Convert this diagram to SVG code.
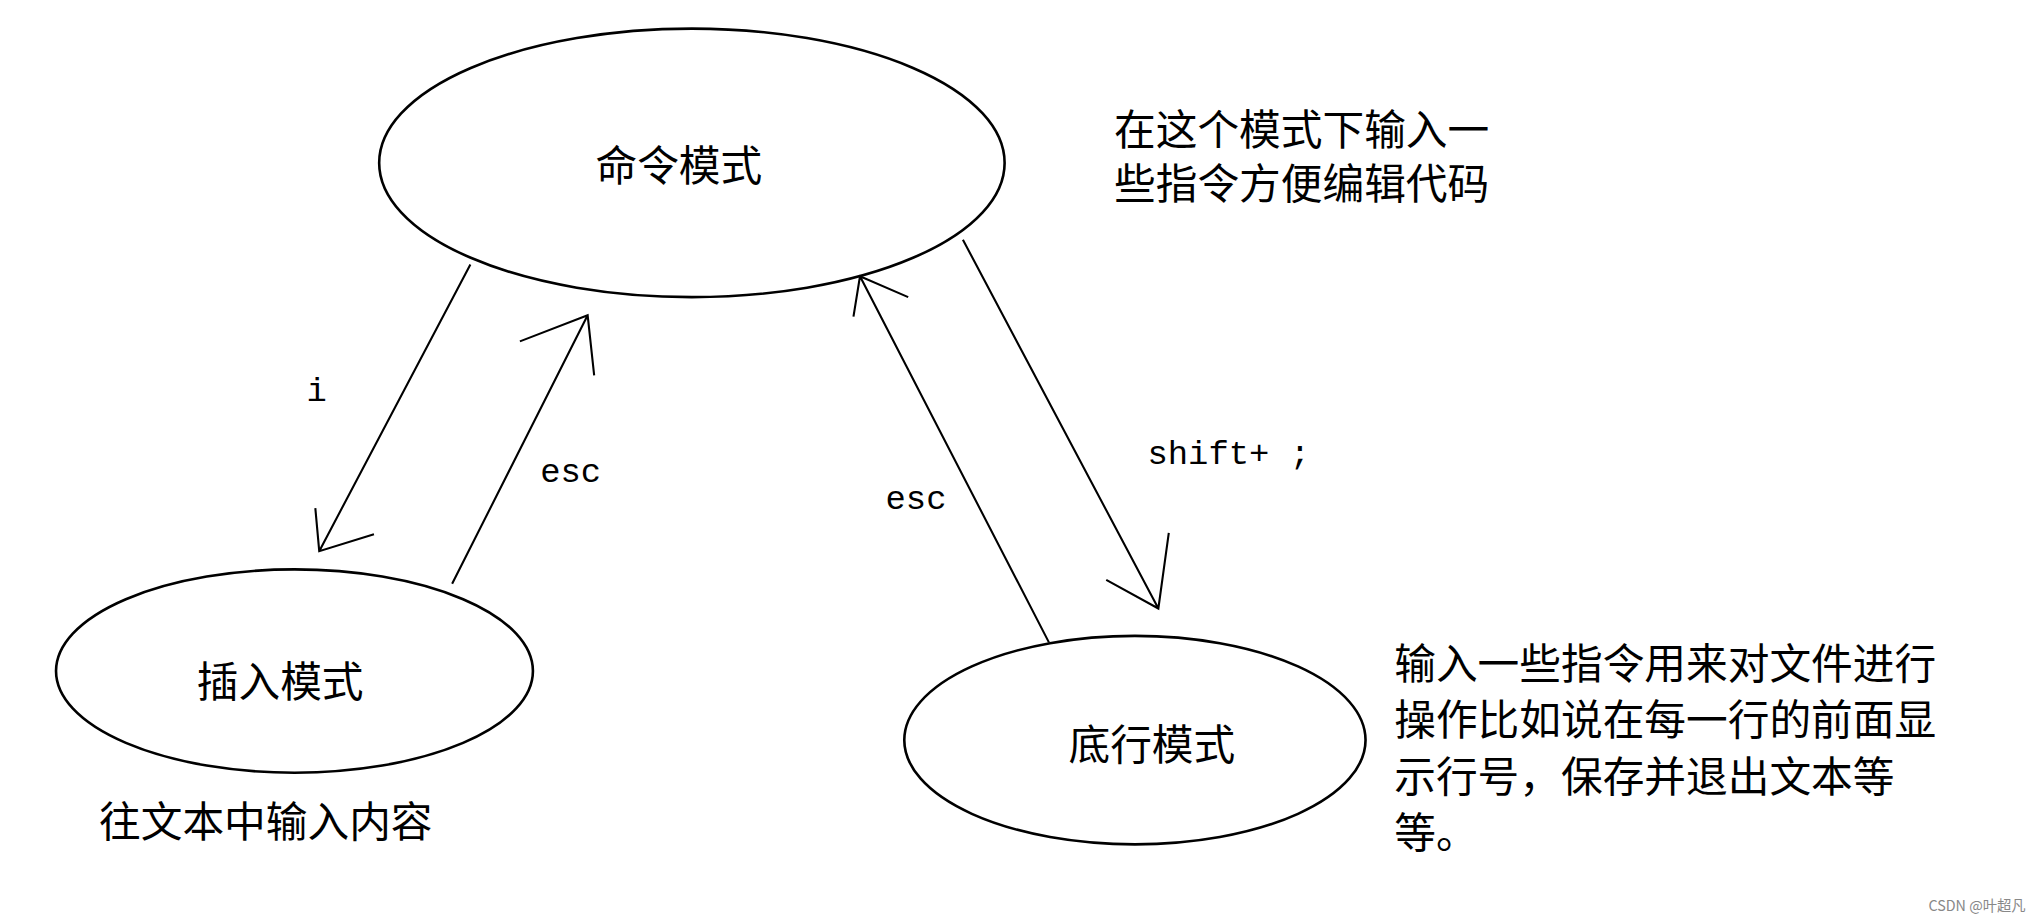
<svg xmlns="http://www.w3.org/2000/svg" width="2043" height="922" viewBox="0 0 2043 922">
<style>
.n{fill:none;stroke:#000;stroke-width:2}
.l{fill:none;stroke:#000;stroke-width:1.6}
.t{font-family:"Noto Sans CJK SC","Noto Sans CJK JP",sans-serif;font-size:32px;fill:#000}
.c{text-anchor:middle}
.e{font-family:"Liberation Mono",monospace;font-size:26px;fill:#000;text-anchor:middle}
</style>
<rect width="2043" height="922" fill="#fff"/>
<g transform="scale(1.303)">
<g id="cmd"><ellipse class="n" cx="531" cy="125" rx="240" ry="103"/><text class="t c" x="521" y="139">命令模式</text></g>
<g id="ins"><ellipse class="n" cx="226" cy="515" rx="183" ry="78"/><text class="t c" x="215" y="535">插入模式</text></g>
<g id="bot"><ellipse class="n" cx="871" cy="568" rx="177" ry="80"/><text class="t c" x="884" y="583">底行模式</text></g>
<g id="connectors">
<path class="l" d="M361,203 L245,423 M242,390 L245,423 L287,410"/>
<path class="l" d="M347,448 L451,242 M399,262 L451,242 L456,288"/>
<path class="l" d="M805,493 L660,212 M655,243 L660,212 L697,228"/>
<path class="l" d="M739,184 L889,467 M849,445 L889,467 L897,409"/>
</g>
<g id="labels">
<text class="e" x="243" y="308">i</text>
<text class="e" x="438" y="370">esc</text>
<text class="e" x="703" y="391">esc</text>
<text class="e" x="943" y="356">shift+ ;</text>
<text class="t" x="855" y="111">在这个模式下输入一</text>
<text class="t" x="855" y="153">些指令方便编辑代码</text>
<text class="t" x="76" y="642">往文本中输入内容</text>
<text class="t" x="1070" y="521">输入一些指令用来对文件进行</text>
<text class="t" x="1070" y="564">操作比如说在每一行的前面显</text>
<text class="t" x="1070" y="608">示行号，保存并退出文本等</text>
<text class="t" x="1070" y="651">等。</text>
<text class="t" x="1480" y="699" style="font-size:11px;fill:#888">CSDN @叶超凡</text>
</g>
</g>
</svg>
